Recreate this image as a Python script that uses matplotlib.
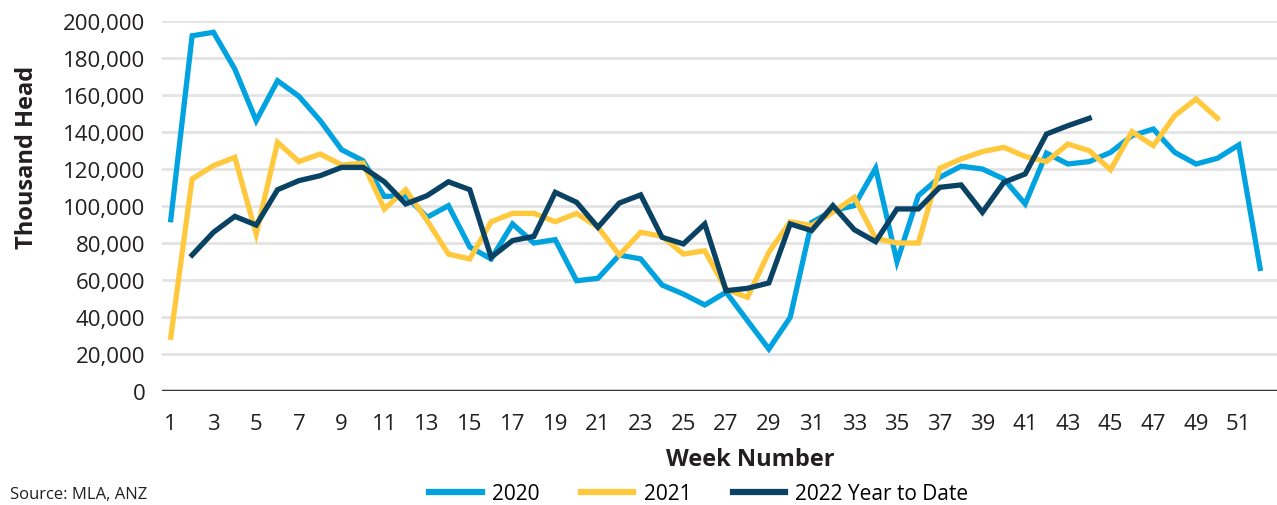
import matplotlib
matplotlib.use('Agg')
import matplotlib.pyplot as plt

plt.rcParams['font.family'] = ['Open Sans', 'DejaVu Sans']

# weekly slaughter, thousand head
weeks_2020 = list(range(1, 53))
vals_2020 = [92600, 192000, 193900, 174000, 146100, 167700, 159300, 146100, 130400, 124500,
             105200, 105600, 93900, 100200, 77800, 71400, 90300, 80000, 81800, 59600,
             60900, 73500, 71400, 57300, 52400, 46500, 53400, 38000, 22700, 39800,
             91100, 97500, 100200, 120400, 69900, 105600, 115500, 121500, 120000, 114600,
             101100, 128600, 122700, 124000, 129000, 138000, 141600, 129000, 122700, 125800,
             133000, 66300]

weeks_2021 = list(range(1, 51))
vals_2021 = [29000, 114600, 121800, 126300, 84900, 134400, 124000, 128100, 122200, 123200,
             98400, 108800, 92100, 74000, 71400, 91500, 96000, 96000, 91500, 96000,
             88500, 73500, 85800, 83600, 74000, 75800, 55000, 50600, 75000, 91500,
             89400, 96600, 104700, 82500, 80000, 80000, 120400, 125400, 129400, 131700,
             126800, 124000, 133500, 129900, 119600, 140200, 132600, 148800, 157800, 147400]

weeks_2022 = list(range(2, 45))
vals_2022 = [73500, 85800, 94400, 89700, 108800, 113700, 116400, 120900, 120900,
             113100, 101100, 105600, 113100, 108800, 72300, 81300, 83600, 107400, 102000,
             88500, 101600, 106000, 83100, 79500, 90300, 54200, 55500, 58400, 90300,
             86700, 100200, 87200, 80700, 98400, 98400, 110100, 111400, 96600, 112800,
             117300, 138900, 143400, 147400]

xticks = list(range(1, 52, 2))
yticks = list(range(0, 200001, 20000))

fig = plt.figure(figsize=(12.77, 5.06), dpi=100)
ax = fig.add_axes([162 / 1277, 114 / 506, 1115 / 1277, 370 / 506])

ax.plot(weeks_2020, vals_2020, color='#00A3E0', lw=3.8, label='2020', solid_joinstyle='miter')
ax.plot(weeks_2021, vals_2021, color='#FFC83D', lw=3.8, label='2021', solid_joinstyle='miter')
ax.plot(weeks_2022, vals_2022, color='#0A4264', lw=3.8, label='2022 Year to Date', solid_joinstyle='miter')

ax.set_xlim(0.59, 52.79)
ax.set_ylim(0, 200000)
ax.set_yticks(yticks)
ax.set_yticklabels([f'{v:,}' for v in yticks])
ax.set_xticks(xticks)
ax.set_xticklabels([str(w) for w in xticks])
ax.tick_params(axis='both', length=0, labelsize=16, labelcolor='#231F20')
ax.tick_params(axis='y', pad=12)
ax.tick_params(axis='x', pad=16)

ax.grid(axis='y', color='#E3E3E3', lw=2)
ax.set_axisbelow(True)
for s in ax.spines.values():
    s.set_visible(False)
ax.axhline(0, color='#333333', lw=2.5, zorder=1)

ax.set_xlabel('Week Number', fontsize=17, weight='bold', color='#231F20')
ax.xaxis.set_label_coords((750 - 162) / 1115, -(460 - 392) / 370)
ax.xaxis.label.set_va('center')
ax.set_ylabel('Thousand Head', fontsize=17, weight='bold', color='#231F20')
ax.yaxis.set_label_coords((27 - 162) / 1115, (392 - 157) / 370)
ax.yaxis.label.set_va('center')

leg = fig.legend(loc='center', bbox_to_anchor=(699 / 1277, 1 - 495 / 506), ncol=3,
                 frameon=False, fontsize=15, handlelength=2.5, columnspacing=2.0,
                 handletextpad=0.5)
for line in leg.get_lines():
    line.set_linewidth(4.5)

fig.text(10 / 1277, 3 / 506, 'Source: MLA, ANZ', fontsize=12, va='bottom', color='#231F20')

fig.savefig('out.png', dpi=100)
